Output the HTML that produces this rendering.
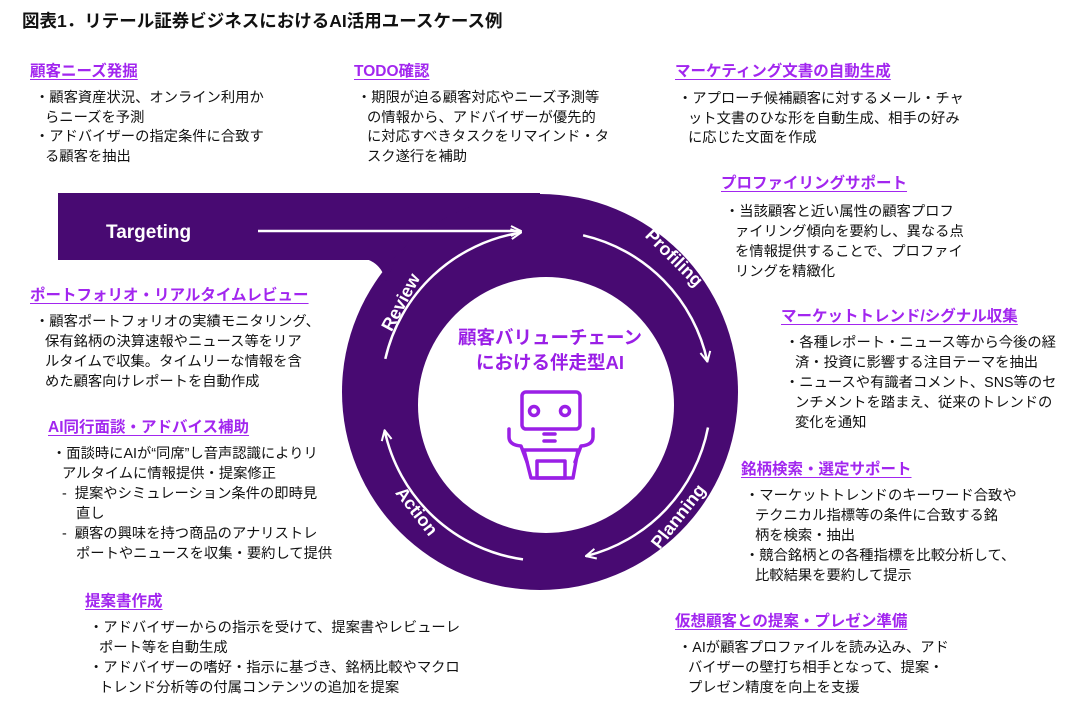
<!DOCTYPE html>
<html><head><meta charset="utf-8">
<style>
html,body{margin:0;padding:0;background:#fff;}
body{width:1083px;height:711px;position:relative;overflow:hidden;font-family:"Liberation Sans","Noto Sans CJK JP",sans-serif;color:#111;}
.t{position:absolute;left:22px;top:8px;font-size:17.5px;font-weight:bold;white-space:nowrap;}
.h{position:absolute;font-size:15.5px;font-weight:bold;color:#a226ef;text-decoration:underline;text-underline-offset:3px;white-space:nowrap;line-height:20px;}
.b{position:absolute;font-size:14.3px;line-height:19.5px;white-space:nowrap;}
.b div{padding-left:10px;text-indent:-10px;}
.b .d{padding-left:24px;text-indent:-14px;}
svg{position:absolute;left:0;top:0;}
</style></head><body>
<svg width="1083" height="711" viewBox="0 0 1083 711">
<defs>
<marker id="a" viewBox="0 0 12 12" refX="11" refY="6" markerWidth="12" markerHeight="12" markerUnits="userSpaceOnUse" orient="auto">
<path d="M1,1 L11,6 L1,11" fill="none" stroke="#fff" stroke-width="2"/>
</marker>
</defs>
<rect x="58" y="193" width="482" height="67" fill="#480a72"/>
<circle cx="540" cy="392" r="198" fill="#480a72"/>
<path d="M366,259 L396,259 L386,282 Q382,264 366,259 Z" fill="#480a72"/>
<circle cx="546" cy="405" r="128" fill="#fff"/>
<line x1="258" y1="231" x2="521" y2="231" stroke="#fff" stroke-width="2.5" marker-end="url(#a)"/>
<path d="M385.3,358.9 A165,165 0 0 1 521,232.6" fill="none" stroke="#fff" stroke-width="2.5" marker-end="url(#a)"/>
<path d="M583.1,235.3 A165,165 0 0 1 707.4,361.7" fill="none" stroke="#fff" stroke-width="2.5" marker-end="url(#a)"/>
<path d="M708,427.5 A165,165 0 0 1 585.9,556.1" fill="none" stroke="#fff" stroke-width="2.5" marker-end="url(#a)"/>
<path d="M523,559.4 A165,165 0 0 1 384.6,430.3" fill="none" stroke="#fff" stroke-width="2.5" marker-end="url(#a)"/>
<text x="106" y="238" fill="#fff" font-size="19" font-weight="bold" font-family="Liberation Sans,sans-serif">Targeting</text>
<g fill="#fff" font-size="18" font-weight="bold" font-family="Liberation Sans,sans-serif" text-anchor="middle">
<text transform="translate(670,262) rotate(45)">Profiling</text>
<text transform="translate(683,520) rotate(-52)">Planning</text>
<text transform="translate(412,515) rotate(52)">Action</text>
<text transform="translate(406,305) rotate(-62)">Review</text>
</g>
<text x="550" y="344" text-anchor="middle" fill="#9a1fe6" font-size="18.5" font-weight="bold" font-family="Liberation Sans,Noto Sans CJK JP,sans-serif">顧客バリューチェーン</text>
<text x="550" y="369" text-anchor="middle" fill="#9a1fe6" font-size="18.5" font-weight="bold" font-family="Liberation Sans,Noto Sans CJK JP,sans-serif">における伴走型AI</text>
<g fill="none" stroke="#9a1fe6" stroke-width="3.5" stroke-linejoin="round" stroke-linecap="round">
<rect x="522" y="392" width="58" height="37" rx="4"/>
<circle cx="534" cy="411" r="4.5"/>
<circle cx="565" cy="411" r="4.5"/>
<line x1="544" y1="434" x2="555" y2="434"/>
<line x1="544" y1="441" x2="555" y2="441"/>
<path d="M524,450 H578 L573,478 H531 Z"/>
<rect x="537" y="461" width="28" height="17"/>
<path d="M509,429 V437 Q509,445 521,446 L527,462"/>
<path d="M593,429 V437 Q593,445 581,446 L575,462"/>
</g>
</svg>
<div class="t">図表1．リテール証券ビジネスにおけるAI活用ユースケース例</div>

<div class="h" style="left:30px;top:62px">顧客ニーズ発掘</div>
<div class="b" style="left:35px;top:89px"><div>・顧客資産状況、オンライン利用か<br>らニーズを予測</div><div>・アドバイザーの指定条件に合致す<br>る顧客を抽出</div></div>

<div class="h" style="left:354px;top:62px">TODO確認</div>
<div class="b" style="left:357px;top:89px"><div>・期限が迫る顧客対応やニーズ予測等<br>の情報から、アドバイザーが優先的<br>に対応すべきタスクをリマインド・タ<br>スク遂行を補助</div></div>

<div class="h" style="left:675px;top:62px">マーケティング文書の自動生成</div>
<div class="b" style="left:678px;top:90px"><div>・アプローチ候補顧客に対するメール・チャ<br>ット文書のひな形を自動生成、相手の好み<br>に応じた文面を作成</div></div>

<div class="h" style="left:721px;top:174px">プロファイリングサポート</div>
<div class="b" style="left:725px;top:202px;line-height:20px"><div>・当該顧客と近い属性の顧客プロフ<br>ァイリング傾向を要約し、異なる点<br>を情報提供することで、プロファイ<br>リングを精緻化</div></div>

<div class="h" style="left:781px;top:307px">マーケットトレンド/シグナル収集</div>
<div class="b" style="left:785px;top:333px;line-height:20px"><div>・各種レポート・ニュース等から今後の経<br>済・投資に影響する注目テーマを抽出</div><div>・ニュースや有識者コメント、SNS等のセ<br>ンチメントを踏まえ、従来のトレンドの<br>変化を通知</div></div>

<div class="h" style="left:741px;top:460px">銘柄検索・選定サポート</div>
<div class="b" style="left:745px;top:486px;line-height:20px"><div>・マーケットトレンドのキーワード合致や<br>テクニカル指標等の条件に合致する銘<br>柄を検索・抽出</div><div>・競合銘柄との各種指標を比較分析して、<br>比較結果を要約して提示</div></div>

<div class="h" style="left:675px;top:612px">仮想顧客との提案・プレゼン準備</div>
<div class="b" style="left:678px;top:638px;line-height:20px"><div>・AIが顧客プロファイルを読み込み、アド<br>バイザーの壁打ち相手となって、提案・<br>プレゼン精度を向上を支援</div></div>

<div class="h" style="left:30px;top:286px">ポートフォリオ・リアルタイムレビュー</div>
<div class="b" style="left:35px;top:312px;line-height:20px"><div>・顧客ポートフォリオの実績モニタリング、<br>保有銘柄の決算速報やニュース等をリア<br>ルタイムで収集。タイムリーな情報を含<br>めた顧客向けレポートを自動作成</div></div>

<div class="h" style="left:48px;top:418px">AI同行面談・アドバイス補助</div>
<div class="b" style="left:52px;top:444px;line-height:20px"><div>・面談時にAIが“同席”し音声認識によりリ<br>アルタイムに情報提供・提案修正</div><div class="d">-&nbsp; 提案やシミュレーション条件の即時見<br>直し</div><div class="d">-&nbsp; 顧客の興味を持つ商品のアナリストレ<br>ポートやニュースを収集・要約して提供</div></div>

<div class="h" style="left:85px;top:592px">提案書作成</div>
<div class="b" style="left:89px;top:618px;line-height:20px"><div>・アドバイザーからの指示を受けて、提案書やレビューレ<br>ポート等を自動生成</div><div>・アドバイザーの嗜好・指示に基づき、銘柄比較やマクロ<br>トレンド分析等の付属コンテンツの追加を提案</div></div>
</body></html>
